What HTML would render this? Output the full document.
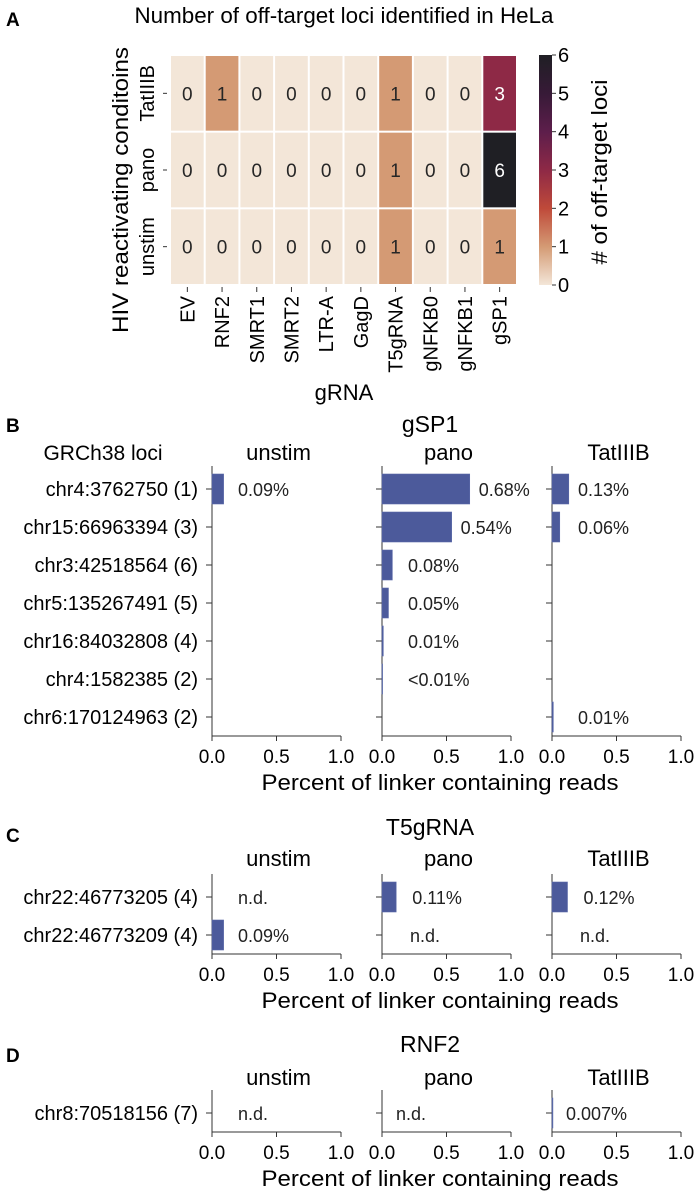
<!DOCTYPE html>
<html><head><meta charset="utf-8"><style>
html,body{margin:0;padding:0;background:#fff;}
svg{display:block;font-family:"Liberation Sans",Arial,sans-serif;}
</style></head><body>
<svg id="fig" width="697" height="1196" viewBox="0 0 697 1196" xmlns="http://www.w3.org/2000/svg">
<defs>
<linearGradient id="cbgrad" x1="0" y1="1" x2="0" y2="0">
<stop offset="0" stop-color="#f3e6d8"/>
<stop offset="0.1667" stop-color="#d49a74"/>
<stop offset="0.3333" stop-color="#bf4a3a"/>
<stop offset="0.5" stop-color="#8e2946"/>
<stop offset="0.6667" stop-color="#5d1e4b"/>
<stop offset="0.8333" stop-color="#371a37"/>
<stop offset="1" stop-color="#1f1f24"/>
</linearGradient>
</defs>
<text x="6" y="26" font-size="19" font-weight="bold">A</text>
<text x="344" y="23" font-size="22" text-anchor="middle" textLength="419" lengthAdjust="spacingAndGlyphs">Number of off-target loci identified in HeLa</text>
<g id="heat"></g>
<g id="panels"></g>
</svg>
<script>
// ---- Heatmap data ----
var gRNAs = ["EV","RNF2","SMRT1","SMRT2","LTR-A","GagD","T5gRNA","gNFKB0","gNFKB1","gSP1"];
var conditions = ["TatIIIB","pano","unstim"];
var countsTatIIIB = [0,1,0,0,0,0,1,0,0,3];
var countsPano    = [0,0,0,0,0,0,1,0,0,6];
var countsUnstim  = [0,0,0,0,0,0,1,0,0,1];
var cbTicks = [0,1,2,3,4,5,6];

// ---- Bar chart data ----
var groupNames = ["unstim","pano","TatIIIB"];
var xTicks = [0.0,0.5,1.0];
var xTickLabels = ["0.0","0.5","1.0"];
var lociB = ["chr4:3762750 (1)","chr15:66963394 (3)","chr3:42518564 (6)","chr5:135267491 (5)","chr16:84032808 (4)","chr4:1582385 (2)","chr6:170124963 (2)"];
var bUnstim = [0.09,null,null,null,null,null,null];
var bPano   = [0.68,0.54,0.08,0.05,0.01,0.004,null];
var bTat    = [0.13,0.06,null,null,null,null,0.01];
var bUnstimLbl = ["0.09%","","","","","",""];
var bPanoLbl   = ["0.68%","0.54%","0.08%","0.05%","0.01%","<0.01%",""];
var bTatLbl    = ["0.13%","0.06%","","","","","0.01%"];
var lociC = ["chr22:46773205 (4)","chr22:46773209 (4)"];
var cUnstim = [null,0.09];
var cPano   = [0.11,null];
var cTat    = [0.12,null];
var cUnstimLbl = ["n.d.","0.09%"];
var cPanoLbl   = ["0.11%","n.d."];
var cTatLbl    = ["0.12%","n.d."];
var lociD = ["chr8:70518156 (7)"];
var dUnstim = [null];
var dPano   = [null];
var dTat    = [0.007];
var dUnstimLbl = ["n.d."];
var dPanoLbl   = ["n.d."];
var dTatLbl    = ["0.007%"];

var NS="http://www.w3.org/2000/svg";
function mk(tag, attrs, parent, txt){
  var e=document.createElementNS(NS,tag);
  for(var k in attrs) e.setAttribute(k,attrs[k]);
  if(txt!==undefined) e.textContent=txt;
  parent.appendChild(e); return e;
}
var heat=document.getElementById('heat');
var panels=document.getElementById('panels');

// heatmap geometry
var hx0=170,hx1=517,hy0=55,hy1=285;
var cw=(hx1-hx0)/gRNAs.length, ch=(hy1-hy0)/conditions.length;
var vmax=6;
var stops=[[243,230,216],[212,154,116],[191,74,58],[142,41,70],[93,30,75],[55,26,55],[31,31,36]];
function colorOf(v){
  var t=v/vmax*6, i=Math.min(5,Math.floor(t)), f=t-i;
  var a=stops[i], b=stops[i+1];
  return "rgb("+a.map(function(c,j){return Math.round(c+(b[j]-c)*f);}).join(",")+")";
}
function xCol(i){return hx0+i*cw;}
function yRow(j){return hy0+j*ch;}
var rowsData=[countsTatIIIB,countsPano,countsUnstim];
rowsData.forEach(function(row,j){
  row.forEach(function(v,i){
    var r=mk('rect',{x:xCol(i)+1,y:yRow(j)+1,width:cw-2,height:ch-2,fill:colorOf(v)},heat);
    
    
    var t=mk('text',{x:xCol(i)+cw/2,y:yRow(j)+ch/2+7,'font-size':19,'text-anchor':'middle',fill:(v>=3?'#fff':'#262626')},heat,String(v));
    
    
  });
});
conditions.forEach(function(c,j){
  var cy=yRow(j)+ch/2;
  var tk=mk('line',{x1:163,x2:167,y1:cy,y2:cy,stroke:'#333','stroke-width':1},heat);
  
  
  var t=mk('text',{x:0,y:0,'font-size':20,'text-anchor':'middle',transform:'translate(154,'+cy+') rotate(-90)'},heat,c);
  
  
});
gRNAs.forEach(function(g,i){
  var cx=xCol(i)+cw/2;
  var tk=mk('line',{x1:cx,x2:cx,y1:287,y2:292,stroke:'#333','stroke-width':1},heat);
  
  
  var t=mk('text',{x:0,y:0,'font-size':20,'text-anchor':'end',transform:'translate('+(cx+7)+',296) rotate(-90)'},heat,g);
  
  
});
var xl=mk('text',{x:344,y:400,'font-size':22,'text-anchor':'middle'},heat,'gRNA');


var yl=mk('text',{x:0,y:0,'font-size':22,'text-anchor':'middle',textLength:286,lengthAdjust:'spacingAndGlyphs',transform:'translate(128,190) rotate(-90)'},heat,'HIV reactivating conditoins');


// colorbar
var cbx=539,cbw=13;
var cb=mk('rect',{x:cbx,y:hy0,width:cbw,height:hy1-hy0,fill:'url(#cbgrad)'},heat);


cbTicks.forEach(function(v){
  var y=hy1-(v/vmax)*(hy1-hy0);
  var l=mk('line',{x1:cbx+cbw,x2:cbx+cbw+4,y1:y,y2:y,stroke:'#333','stroke-width':1},heat);
  
  
  var t=mk('text',{x:cbx+cbw+6,y:y+7,'font-size':20},heat,String(v));
  
  
});
var cl=mk('text',{x:0,y:0,'font-size':22,'text-anchor':'middle',textLength:185,lengthAdjust:'spacingAndGlyphs',transform:'translate(607,172) rotate(-90)'},heat,'# of off-target loci');



// ---- bar panels ----
var axX=[212,382,552], axW=129, rowSp=38, barH=30;
function xScale(p,v){return axX[p]+v*axW;}
function drawPanel(o){
  var g=mk('g',{},panels);
  
  
  var pl=mk('text',{x:6,y:o.labelY,'font-size':19,'font-weight':'bold'},g,o.key.toUpperCase());
  
  
  var tt=mk('text',{x:430,y:o.titleY,'font-size':23,'text-anchor':'middle'},g,o.title);
  
  
  if(o.lociHeader){
    var lh=mk('text',{x:103,y:o.colY,'font-size':21,'text-anchor':'middle'},g,'GRCh38 loci');
    
    
  }
  function yRowB(i){return o.axTop+23+i*rowSp;}
  var bottom=yRowB(o.loci.length-1)+19;
  o.loci.forEach(function(l,i){
    var t=mk('text',{x:198,y:yRowB(i)+7,'font-size':20,'text-anchor':'end'},g,l);
    
    
  });
  for(var p=0;p<3;p++){
    var ct=mk('text',{x:axX[p]+axW/2+2,y:o.colY,'font-size':22,'text-anchor':'middle'},g,groupNames[p]);
    
    
    var ya=mk('line',{x1:axX[p],x2:axX[p],y1:o.axTop,y2:bottom,stroke:'#333','stroke-width':1},g);
    
    
    var xa=mk('line',{x1:axX[p],x2:axX[p]+axW,y1:bottom,y2:bottom,stroke:'#333','stroke-width':1},g);
    
    
    xTicks.forEach(function(v,k){
      var x=xScale(p,v);
      var tk=mk('line',{x1:x,x2:x,y1:bottom,y2:bottom+5,stroke:'#333','stroke-width':1},g);
      
      
      var tl=mk('text',{x:x,y:bottom+27,'font-size':19,'text-anchor':'middle'},g,xTickLabels[k]);
      
      
    });
    var vals=o.vals[p], lbls=o.lbls[p];
    o.loci.forEach(function(l,i){
      var cy=yRowB(i);
      var tk=mk('line',{x1:axX[p]-6,x2:axX[p],y1:cy,y2:cy,stroke:'#333','stroke-width':1},g);
      
      
      var v=vals[i];
      var end=axX[p];
      if(v!==null){
        end=xScale(p,v);
        var b=mk('rect',{x:axX[p],y:cy-barH/2,width:Math.max(0.6,end-axX[p]),height:barH,fill:'#4c5a9b',stroke:'#5b6aa8','stroke-width':0.6},g);
        
        
      }
      if(lbls[i]){
        var lx=Math.max(axX[p]+26,end+9);
        if(o.key==='c' && p>0) lx=Math.max(axX[p]+28,end+16);
        if(o.key==='d' && p>0) lx=axX[p]+14;
        var t=mk('text',{x:lx,y:cy+7,'font-size':18,fill:'#222'},g,lbls[i]);
        
        
      }
    });
  }
  var xt=mk('text',{x:440,y:bottom+54,'font-size':22,'text-anchor':'middle',textLength:357,lengthAdjust:'spacingAndGlyphs'},g,'Percent of linker containing reads');
  
  
}
drawPanel({key:'b',title:'gSP1',labelY:432,titleY:432,colY:460,axTop:466,loci:lociB,vals:[bUnstim,bPano,bTat],lbls:[bUnstimLbl,bPanoLbl,bTatLbl],lociHeader:true});
drawPanel({key:'c',title:'T5gRNA',labelY:842,titleY:835,colY:866,axTop:874,loci:lociC,vals:[cUnstim,cPano,cTat],lbls:[cUnstimLbl,cPanoLbl,cTatLbl]});
drawPanel({key:'d',title:'RNF2',labelY:1062,titleY:1052,colY:1085,axTop:1090,loci:lociD,vals:[dUnstim,dPano,dTat],lbls:[dUnstimLbl,dPanoLbl,dTatLbl]});
</script>
</body></html>
